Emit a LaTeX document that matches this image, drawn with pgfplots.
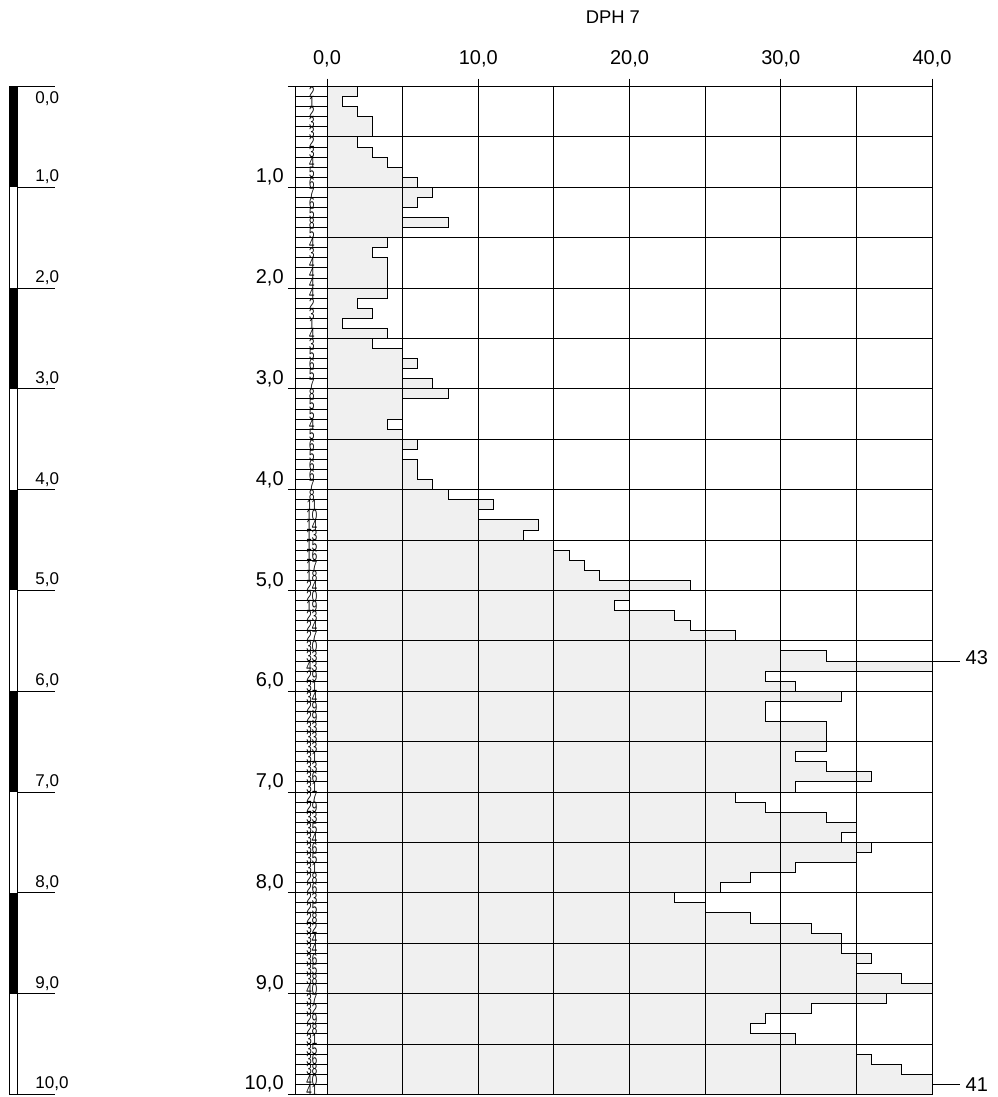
\documentclass[border=0pt]{standalone}
\usepackage{fontspec}
\setmainfont{Liberation Sans}
\newfontfamily\numfont[FakeStretch=0.64]{Liberation Sans}
\usepackage{pgfplots}
\usepackage{pgfplotstable}
\pgfplotsset{compat=1.18}
\definecolor{fillgray}{HTML}{F0F0F0}

\pgfplotstableread{
d v
0.0 2
0.1 1
0.2 2
0.3 3
0.4 3
0.5 2
0.6 3
0.7 4
0.8 5
0.9 6
1.0 7
1.1 6
1.2 5
1.3 8
1.4 5
1.5 4
1.6 3
1.7 4
1.8 4
1.9 4
2.0 4
2.1 2
2.2 3
2.3 1
2.4 4
2.5 3
2.6 5
2.7 6
2.8 5
2.9 7
3.0 8
3.1 5
3.2 5
3.3 4
3.4 5
3.5 6
3.6 5
3.7 6
3.8 6
3.9 7
4.0 8
4.1 11
4.2 10
4.3 14
4.4 13
4.5 15
4.6 16
4.7 17
4.8 18
4.9 24
5.0 20
5.1 19
5.2 23
5.3 24
5.4 27
5.5 30
5.6 33
5.7 43
5.8 29
5.9 31
6.0 34
6.1 29
6.2 29
6.3 33
6.4 33
6.5 33
6.6 31
6.7 33
6.8 36
6.9 31
7.0 27
7.1 29
7.2 33
7.3 35
7.4 34
7.5 36
7.6 35
7.7 31
7.8 28
7.9 26
8.0 23
8.1 25
8.2 28
8.3 32
8.4 34
8.5 34
8.6 36
8.7 35
8.8 38
8.9 40
9.0 37
9.1 32
9.2 29
9.3 28
9.4 31
9.5 35
9.6 36
9.7 38
9.8 40
9.9 41
10.0 41
}\data

\begin{document}
\begin{tikzpicture}
\begin{axis}[
  scale only axis, width=302.5pt, height=503.9pt,
  xmin=0, xmax=40, ymin=0, ymax=10, y dir=reverse,
  clip=false, axis on top,
  axis line style={line width=0.5pt},
  xtick={0,10,20,30,40}, minor xtick={5,15,25,35},
  xtick pos=right, xticklabel pos=right, tick align=outside,
  major tick length=4pt, minor tick length=0pt,
  xtick style={line width=0.5pt, black},
  xticklabel={\pgfmathprintnumber[fixed,fixed zerofill,precision=1,use comma,assume math mode=true]{\tick}},
  xticklabel style={font=\fontsize{10}{12}\selectfont, yshift=2pt},
  ytick={0,0.5,...,10}, yticklabels={}, ytick style={draw=none},
  xmajorgrids, xminorgrids, ymajorgrids,
  major grid style={black, line width=0.5pt},
  minor grid style={black, line width=0.5pt},
]
% filled profile
\addplot[fill=fillgray, draw=none, const plot mark right]
  table[x expr={min(\thisrow{v},40)}, y=d] {\data} -- (axis cs:0,10) -- (axis cs:0,0) -- cycle;
% step outline
\addplot[black, line width=0.5pt, const plot mark right]
  table[x expr={min(\thisrow{v},40)}, y=d] {\data};
% blow counts in the column
\addplot[only marks, mark=none, point meta=explicit,
  nodes near coords={\pgfmathprintnumber[int detect,assume math mode=true]{\pgfplotspointmeta}},
  nodes near coords style={anchor=center, inner sep=0pt, font=\numfont\fontsize{7.6}{7.6}\selectfont, text=black}]
  table[x expr=-1.0, y expr=\thisrow{d}+0.055, meta=v, skip coords between index={100}{101}] {\data};

% column lines
\pgfplotsinvokeforeach{0,...,100}{
  \draw[line width=0.5pt] (axis cs:-2.07,{#1*0.1}) -- (axis cs:0,{#1*0.1});
}
\draw[line width=0.5pt] (axis cs:-2.07,0) -- (axis cs:-2.07,10);
\pgfplotsinvokeforeach{0,...,10}{
  \draw[line width=0.5pt] (axis cs:-2.58,#1) -- (axis cs:0,#1);
}
\pgfplotsinvokeforeach{1,...,10}{
  \node[anchor=south east, inner sep=0pt, font=\fontsize{10}{12}\selectfont] at (axis cs:-2.84,{#1-0.015}) {#1,0};
}

% soil strip
\pgfplotsinvokeforeach{0,2,4,6,8}{
  \fill[black] (axis cs:-20.96,#1) rectangle (axis cs:-20.48,{#1+1});
}
\draw[line width=0.5pt] (axis cs:-20.96,0) rectangle (axis cs:-20.48,10);
\pgfplotsinvokeforeach{0,...,10}{
  \draw[line width=0.5pt] (axis cs:-20.48,#1) -- (axis cs:-17.98,#1);
}
\node[anchor=north west, inner sep=0pt, font=\fontsize{8.5}{10}\selectfont] at (axis cs:-19.3,0.05) {0,0};
\pgfplotsinvokeforeach{1,...,10}{
  \node[anchor=south west, inner sep=0pt, font=\fontsize{8.5}{10}\selectfont] at (axis cs:-19.3,{#1-0.03}) {#1,0};
}

% overflow leaders
\draw[line width=0.5pt] (axis cs:40,5.7) -- (axis cs:41.85,5.7);
\node[anchor=west, inner sep=0pt, font=\fontsize{10}{12}\selectfont] at (axis cs:42.2,5.67) {43};
\draw[line width=0.5pt] (axis cs:40,9.9) -- (axis cs:41.85,9.9);
\node[anchor=west, inner sep=0pt, font=\fontsize{10}{12}\selectfont] at (axis cs:42.2,9.9) {41};

% title
\node[font=\fontsize{9.2}{11}\selectfont] at (axis cs:18.9,-0.69) {DPH 7};

\coordinate (BL) at (axis cs:-21.62,10.026);
\coordinate (TR) at (axis cs:44.36,-0.859);
\end{axis}
\pgfresetboundingbox
\path[use as bounding box] (BL) rectangle (TR);
\end{tikzpicture}
\end{document}
